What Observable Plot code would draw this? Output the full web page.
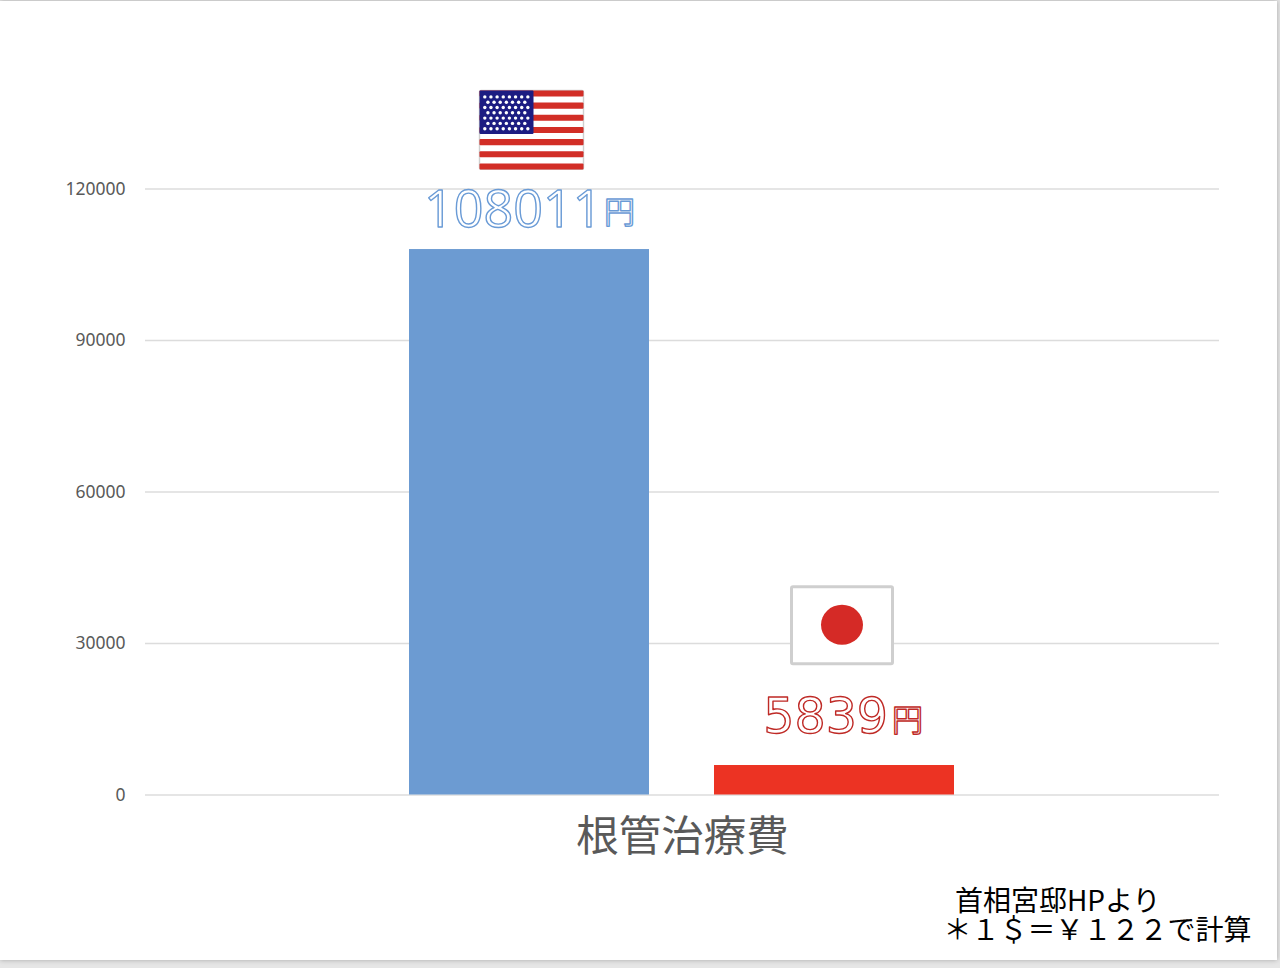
<!DOCTYPE html>
<html lang="ja">
<head>
<meta charset="utf-8">
<script src="https://cdn.jsdelivr.net/npm/d3@7"></script>
<script src="https://cdn.jsdelivr.net/npm/@observablehq/plot@0.6"></script>
<style>
  html, body { margin: 0; padding: 0; background: #e6e6e6; overflow: hidden; }
  #sheet { position: absolute; left: 0; top: 1px; width: 1277px; height: 959px; background: #fff; box-shadow: 0 0 5px rgba(0,0,0,.28); }
  #chart { position: absolute; left: 0; top: 0; width: 1280px; height: 968px; }
  #chart svg { display: block; }
</style>
</head>
<body>
<div id="sheet"></div>
<div id="chart"></div>
<script>
const countries = ["アメリカ", "日本"];
const costs = [108011, 5839];
const barColors = ["#6c9bd2", "#ec3323"];
const labelColors = ["#6a9bd6", "#bf2a26"];
const labelFonts = ["Open Sans", "DejaVu Sans"];
const labelSizes = [52, 49];
const flagLevels = [131600, 33500];
const unit = "円";
const category = "根管治療費";
const yTicks = [0, 30000, 60000, 90000, 120000];
const sourceLines = ["首相宮邸HPより", "＊１＄＝￥１２２で計算"];

const FONT = "'Noto Sans CJK JP', sans-serif";
const table = countries.map((country, i) => ({country, cost: costs[i], flagLevel: flagLevels[i], color: barColors[i]}));

function svgUri(s) { return "data:image/svg+xml;charset=utf-8," + encodeURIComponent(s); }

const soften = `<filter id="w" filterUnits="userSpaceOnUse" x="-6" y="-6" width="118" height="94"><feGaussianBlur stdDeviation="0.45"/></filter>`;
const flagOpen = `<svg xmlns="http://www.w3.org/2000/svg" width="116" height="92" viewBox="-5 -5 116 92"><defs>${soften}</defs><g filter="url(#w)">`;

function usFlag() {
  let stripes = "";
  for (let i = 0; i < 13; i += 2) stripes += `<rect x="1" y="${1 + i * 6.08}" width="104" height="6.1" rx="1" fill="#d22d27"/>`;
  let stars = "";
  for (let r = 0; r < 7; r++) {
    const n = r % 2 ? 7 : 8;
    for (let c = 0; c < n; c++) {
      const cx = 6.3 + (r % 2 ? 3.1 : 0) + c * 6.15, cy = 7.5 + r * 5.3;
      stars += `<circle cx="${cx}" cy="${cy}" r="1.7" fill="#fff"/>`;
    }
  }
  return `${flagOpen}
    <rect x="1" y="1" width="104" height="79" rx="1.5" fill="#fff" stroke="#cfcfcf" stroke-width="1.4"/>
    ${stripes}
    <rect x="1" y="1" width="54" height="43.5" rx="1" fill="#1b1f82"/>
    ${stars}</g></svg>`;
}
function jpFlag() {
  return `${flagOpen}
    <rect x="2" y="2" width="101" height="77" rx="1.5" fill="#fff" stroke="#cfcfcf" stroke-width="3"/>
    <ellipse cx="52.5" cy="40" rx="21" ry="20" fill="#d52b25"/></g></svg>`;
}
const flagImages = [usFlag(), jpFlag()].map(svgUri);
const flagTable = table.map((d, i) => ({...d, src: flagImages[i]}));
const flagDx = [2, 8];

const numberDx = [73, 53.5];
const numberDy = [-23, -32.5];
const unitDx = [74.5, 57.5];
const unitDy = [-27, -35];

const flagMarks = flagTable.map((d, i) =>
  Plot.image([d], {x: "country", y: "flagLevel", src: "src", width: 116, height: 92, dx: flagDx[i]})
);

const labelMarks = table.flatMap((d, i) => [
  Plot.text([d], {
    x: "country", y: "cost", text: v => String(v.cost), textAnchor: "end", lineAnchor: "bottom",
    dx: numberDx[i], dy: numberDy[i], fill: "#fff", stroke: labelColors[i], strokeWidth: 1.4,
    paintOrder: "normal", fontSize: labelSizes[i], fontFamily: labelFonts[i]
  }),
  Plot.text([d], {
    x: "country", y: "cost", text: () => unit, textAnchor: "start", lineAnchor: "bottom",
    dx: unitDx[i], dy: unitDy[i], fill: "#fff", stroke: labelColors[i], strokeWidth: 1.4,
    paintOrder: "normal", fontSize: 31, fontFamily: FONT
  })
]);

const chart = Plot.plot({
  width: 1280,
  height: 968,
  marginLeft: 145,
  marginRight: 61,
  marginTop: 188.5,
  marginBottom: 173.5,
  style: {background: "transparent", fontFamily: FONT},
  x: {type: "band", domain: countries, paddingInner: 0.213, paddingOuter: 0.866, align: 0.5, axis: null},
  y: {domain: [0, 120000], label: null},
  marks: [
    Plot.gridY(yTicks, {stroke: "#dcdcdc", strokeOpacity: 1, strokeWidth: 1.6}),
    Plot.axisY({
      ticks: yTicks, tickSize: 0, tickPadding: 20, label: null, tickFormat: d => String(d),
      fontSize: 17.5, color: "#595959", fontFamily: "Noto Sans"
    }),
    Plot.barY(table, {x: "country", y: "cost", fill: "color"}),
    ...flagMarks,
    ...labelMarks,
    Plot.text([category], {
      text: d => d, frameAnchor: "bottom", lineAnchor: "bottom", dy: 56,
      fontSize: 42.5, fill: "#595959"
    }),
    Plot.text([sourceLines[0]], {
      text: d => d, frameAnchor: "bottom-right", textAnchor: "end", lineAnchor: "bottom",
      dx: -59, dy: 116, fontSize: 28, fill: "#000"
    }),
    Plot.text([sourceLines[1]], {
      text: d => d, frameAnchor: "bottom-right", textAnchor: "end", lineAnchor: "bottom",
      dx: 32, dy: 145, fontSize: 28, fill: "#000"
    })
  ]
});
document.getElementById("chart").appendChild(chart);
</script>
</body>
</html>
